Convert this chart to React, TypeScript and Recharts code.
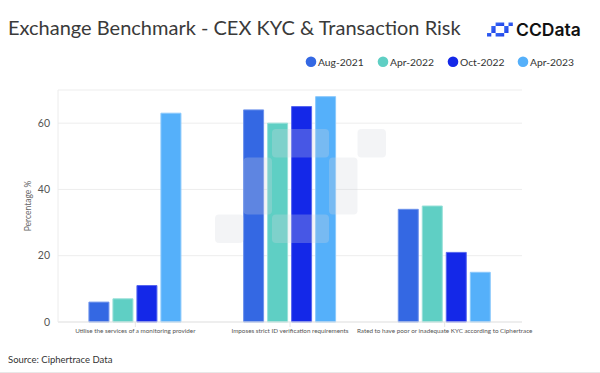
import React from 'react';
import { BarChart, Bar, XAxis, YAxis, CartesianGrid } from 'recharts';

const categories = [
  'Utilise the services of a monitoring provider',
  'Imposes strict ID verification requirements',
  'Rated to have poor or inadequate KYC according to Ciphertrace',
];
const seriesNames = ['Aug-2021', 'Apr-2022', 'Oct-2022', 'Apr-2023'];
const aug2021 = [6, 64, 34];
const apr2022 = [7, 60, 35];
const oct2022 = [11, 65, 21];
const apr2023 = [63, 68, 15];
const seriesValues = [aug2021, apr2022, oct2022, apr2023];
const seriesColors = ['#3468e3', '#5fcfc4', '#1428e8', '#55b0fa'];
const seriesStrokes = ['#6d92ec', '#98e0d8', '#5565ef', '#8cc9fc'];
const yTicks = [0, 20, 40, 60];

const title = 'Exchange Benchmark - CEX KYC & Transaction Risk';
const sourceText = 'Source: Ciphertrace Data';
const yLabel = 'Percentage %';

// logo pixel pattern (grid units)
const logoPattern = [
  [2, 0, 2, 1],
  [5, 0, 1, 1],
  [1, 1, 1, 2],
  [4, 1, 1, 2],
  [2, 3, 2, 1],
  [0, 3, 1, 1],
];

const data = categories.map((c, i) => {
  const row: Record<string, string | number> = { name: c };
  seriesNames.forEach((s, j) => {
    row[s] = seriesValues[j][i];
  });
  return row;
});

const FONT = 'Lato, "Noto Sans", sans-serif';

const legendX = [311, 383, 453, 523];

export default function App() {
  return (
    <div style={{ position: 'relative', width: 600, height: 373, background: '#fff', fontFamily: FONT }}>
      <style>{'body{margin:0}'}</style>
      <div style={{ position: 'absolute', left: 0, top: 0 }}>
        <BarChart
          width={600}
          height={373}
          data={data}
          margin={{ top: 90, right: 78, bottom: 21, left: 0 }}
          barCategoryGap="20%"
          barGap={4}
        >
          <CartesianGrid vertical={false} stroke="#ededed" />
          <XAxis
            dataKey="name"
            height={30}
            interval={0}
            axisLine={{ stroke: '#e6e6e6' }}
            tickLine={{ stroke: '#e6e6e6' }}
            tickSize={5}
            tick={{ fontSize: 6.3, fill: '#555', fontFamily: FONT }}
          />
          <YAxis
            width={58}
            domain={[0, 70]}
            ticks={yTicks}
            axisLine={{ stroke: '#ececec' }}
            tickLine={false}
            tick={{ fontSize: 10.5, fill: '#555', fontFamily: FONT }}
            label={{
              content: (props: any) => {
                const vb = props.viewBox || {};
                const cx = 29;
                const cy = (vb.y || 0) + (vb.height || 0) / 2;
                return (
                  <text
                    x={cx}
                    y={cy}
                    transform={`rotate(-90 ${cx} ${cy})`}
                    textAnchor="middle"
                    dominantBaseline="middle"
                    fontSize={8.5}
                    fill="#666"
                    fontFamily={FONT}
                  >
                    {yLabel}
                  </text>
                );
              },
            }}
          />
          {seriesNames.map((s, j) => (
            <Bar
              key={s}
              dataKey={s}
              fill={seriesColors[j]}
              stroke={seriesStrokes[j]}
              strokeWidth={1}
              isAnimationActive={false}
            />
          ))}
        </BarChart>
      </div>
      <svg
        width={600}
        height={373}
        style={{ position: 'absolute', left: 0, top: 0, pointerEvents: 'none' }}
      >
        {/* watermark */}
        <g fill="#d2d6de" fillOpacity={0.27}>
          {logoPattern.map(([x, y, w, h], i) => (
            <rect key={i} x={215 + x * 28.5} y={129 + y * 28.5} width={w * 28.5} height={h * 28.5} rx={4} />
          ))}
        </g>
        {/* title */}
        <text x={8} y={35} fontSize={20} fill="#3a3a3a" fontFamily={FONT}>
          {title}
        </text>
        {/* logo */}
        <defs>
          <linearGradient id="lg" x1="0" y1="0" x2="1" y2="1">
            <stop offset="0%" stopColor="#3a6cf7" />
            <stop offset="100%" stopColor="#1d3fe6" />
          </linearGradient>
        </defs>
        <g fill="url(#lg)">
          {logoPattern.map(([x, y, w, h], i) => (
            <rect key={i} x={487 + x * 4.3} y={22.5 + y * 3.5} width={w * 4.3} height={h * 3.5} />
          ))}
        </g>
        <text x={516} y={36} fontSize={17.5} fontWeight={600} fill="#111" fontFamily="Inter, Lato, sans-serif">
          CCData
        </text>
        {/* legend */}
        {seriesNames.map((s, j) => (
          <g key={s}>
            <circle cx={legendX[j]} cy={61.7} r={5.3} fill={seriesColors[j]} />
            <text x={legendX[j] + 7} y={65.5} fontSize={10.3} fill="#333" fontFamily={FONT}>
              {s}
            </text>
          </g>
        ))}
        {/* source */}
        <text x={8} y={363} fontSize={9.5} fill="#333" fontFamily={FONT}>
          {sourceText}
        </text>
        <line x1={0} x2={600} y1={372.5} y2={372.5} stroke="#e8e8e8" />
      </svg>
    </div>
  );
}
